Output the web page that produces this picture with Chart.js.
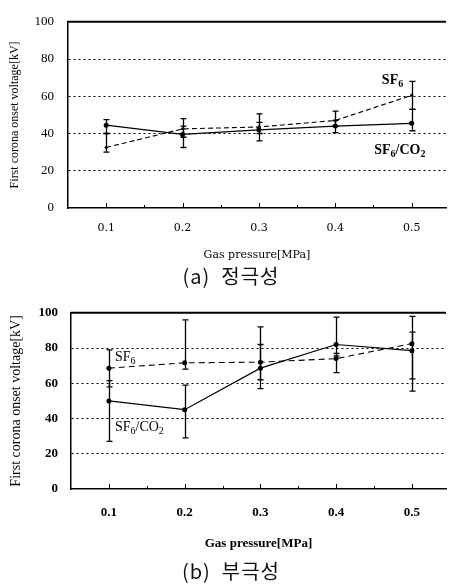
<!DOCTYPE html>
<html>
<head>
<meta charset="utf-8">
<script src="https://cdn.jsdelivr.net/npm/chart.js@4.4.1/dist/chart.umd.min.js"></script>
<style>
body { margin:0; background:#fff; width:450px; height:587px; position:relative; overflow:hidden; }
.box { position:absolute; left:0; width:450px; }
#boxA { top:0; height:264px; }
#boxB { top:292px; height:260px; }
.cap { position:absolute; left:0; width:462px; text-align:center; font-family:"Noto Sans CJK KR"; font-size:20px; line-height:22px; letter-spacing:1px; color:#111; }
</style>
</head>
<body>
<div class="box" id="boxA"><canvas id="chartA"></canvas></div>
<div class="cap" style="top:265px">(a)&nbsp;&nbsp;정극성</div>
<div class="box" id="boxB"><canvas id="chartB"></canvas></div>
<div class="cap" style="top:560px">(b)&nbsp;&nbsp;부극성</div>
<script>
var pressure = [0.1, 0.2, 0.3, 0.4, 0.5];
var xTickMarks = [0.1, 0.15, 0.2, 0.25, 0.3, 0.35, 0.4, 0.45, 0.5];
var yTicks = [0, 20, 40, 60, 80, 100];

// (a) positive polarity
var posMix = [44.5, 39.5, 42, 44, 45.5];
var posMixLo = [40, 32.5, 36, 40.5, 41.5];
var posMixHi = [47.5, 44, 46, 47, 53];
var posSf6 = [32.5, 42.5, 43.5, 47, 60.5];
var posSf6Lo = [30, 38, 40, 44, 53];
var posSf6Hi = [40, 48, 50.5, 52, 68];

// (b) negative polarity
var negMix = [50, 45, 68.6, 82, 78.5];
var negMixLo = [27, 29, 57, 75.5, 55.5];
var negMixHi = [61.5, 59, 82, 97.5, 89];
var negSf6 = [68.6, 71.6, 72, 74, 82.5];
var negSf6Lo = [58, 68, 62, 66, 62.5];
var negSf6Hi = [79, 96, 92, 77, 98];

function pts(vals) {
  return pressure.map(function(p, i) { return {x: p, y: vals[i]}; });
}

// top frame line and the small inner ticks on the x axis
var framePlugin = {
  id: 'frame',
  afterDraw: function(chart) {
    var ctx = chart.ctx, a = chart.chartArea, x = chart.scales.x;
    ctx.save();
    ctx.strokeStyle = '#000';
    ctx.lineWidth = 2;
    ctx.beginPath();
    ctx.moveTo(a.left, a.top);
    ctx.lineTo(a.right, a.top);
    ctx.stroke();
    ctx.lineWidth = 1;
    xTickMarks.forEach(function(v) {
      var px = Math.round(x.getPixelForValue(v)) + 0.5;
      var len = pressure.indexOf(v) >= 0 ? 5 : 3;
      ctx.beginPath();
      ctx.moveTo(px, a.bottom);
      ctx.lineTo(px, a.bottom - len);
      ctx.stroke();
    });
    ctx.restore();
  }
};

var errorPlugin = {
  id: 'errbars',
  beforeDatasetsDraw: function(chart) {
    var ctx = chart.ctx, x = chart.scales.x, y = chart.scales.y;
    ctx.save();
    ctx.strokeStyle = '#000';
    ctx.lineWidth = 1.3;
    chart.data.datasets.forEach(function(ds) {
      pressure.forEach(function(p, j) {
        var px = Math.round(x.getPixelForValue(p)) + 0.5;
        var lo = y.getPixelForValue(ds.errLo[j]);
        var hi = y.getPixelForValue(ds.errHi[j]);
        ctx.beginPath();
        ctx.moveTo(px, lo); ctx.lineTo(px, hi);
        ctx.moveTo(px - 3, hi); ctx.lineTo(px + 3, hi);
        ctx.moveTo(px - 3, lo); ctx.lineTo(px + 3, lo);
        ctx.stroke();
      });
    });
    ctx.restore();
  }
};

// series names with subscripts
var notePlugin = {
  id: 'notes',
  afterDraw: function(chart, args, opts) {
    var ctx = chart.ctx, x = chart.scales.x, y = chart.scales.y;
    ctx.save();
    ctx.fillStyle = '#000';
    ctx.textBaseline = 'alphabetic';
    ctx.textAlign = 'left';
    (opts.items || []).forEach(function(it) {
      var cx = x.getPixelForValue(it.x), cy = y.getPixelForValue(it.y);
      it.parts.forEach(function(part) {
        ctx.font = part[1] ? opts.subFont : opts.font;
        ctx.fillText(part[0], cx, cy + (part[1] ? 3 : 0));
        cx += ctx.measureText(part[0]).width;
      });
    });
    ctx.restore();
  }
};

function makeChart(id, s) {
  return new Chart(document.getElementById(id), {
    type: 'line',
    data: {
      datasets: [{
        label: 'SF6/CO2',
        data: pts(s.mix),
        errLo: s.mixLo,
        errHi: s.mixHi,
        borderColor: '#000',
        borderWidth: 1.2,
        pointRadius: 2.5,
        pointBackgroundColor: '#000',
        pointBorderWidth: 0,
        tension: 0
      }, {
        label: 'SF6',
        data: pts(s.sf6),
        errLo: s.sf6Lo,
        errHi: s.sf6Hi,
        borderColor: '#000',
        borderWidth: 1.1,
        borderDash: s.dash,
        pointRadius: s.sf6Radius,
        pointBackgroundColor: '#000',
        pointBorderWidth: 0,
        tension: 0
      }]
    },
    options: {
      responsive: true,
      maintainAspectRatio: false,
      animation: false,
      layout: { padding: { top: s.padTop, left: 0, right: 0, bottom: 0 } },
      plugins: {
        legend: { display: false },
        tooltip: { enabled: false },
        notes: { items: s.notes, font: s.noteFont, subFont: s.noteSubFont }
      },
      scales: {
        x: {
          type: 'linear',
          min: 0.05,
          max: 0.545,
          afterFit: function(sc) { sc.height = s.xHeight; },
          afterBuildTicks: function(sc) { sc.ticks = pressure.map(function(v) { return {value: v}; }); },
          grid: { display: false, drawTicks: false },
          border: { display: true, color: '#000', width: 1.5 },
          ticks: { color: '#000', padding: s.xPad, font: s.xTickFont, maxRotation: 0,
                   callback: function(v) { return v.toFixed(1); } },
          title: { display: true, text: 'Gas pressure[MPa]', color: '#000', font: s.xTitleFont,
                   padding: { top: 0, bottom: s.xTitlePad } }
        },
        y: {
          min: 0,
          max: 100,
          afterFit: function(sc) { sc.width = s.yWidth; },
          afterBuildTicks: function(sc) { sc.ticks = yTicks.map(function(v) { return {value: v}; }); },
          grid: {
            drawTicks: false,
            lineWidth: 1,
            color: function(c) { return (c.tick && c.tick.value > 0 && c.tick.value < 100) ? '#000' : 'rgba(0,0,0,0)'; }
          },
          border: { display: true, color: '#000', width: 1.5, dash: [2, 3] },
          ticks: { color: '#000', padding: s.yPad, font: s.yTickFont },
          title: { display: true, text: 'First corona onset voltage[kV]', color: '#000', font: s.yTitleFont,
                   padding: { top: 8, bottom: 0 } }
        }
      }
    },
    plugins: [framePlugin, errorPlugin, notePlugin]
  });
}

makeChart('chartA', {
  mix: posMix, mixLo: posMixLo, mixHi: posMixHi,
  sf6: posSf6, sf6Lo: posSf6Lo, sf6Hi: posSf6Hi,
  dash: [5, 3], sf6Radius: 1.5,
  padTop: 8, xHeight: 56, yWidth: 68, xPad: 14, yPad: 14, xTitlePad: 2,
  xTickFont: { family: 'DejaVu Serif', size: 11 },
  xTitleFont: { family: 'DejaVu Serif', size: 11 },
  yTickFont: { family: 'Liberation Serif', size: 13 },
  yTitleFont: { family: 'Liberation Serif', size: 12 },
  noteFont: 'bold 14px "Liberation Serif"', noteSubFont: 'bold 10px "Liberation Serif"',
  notes: [
    { x: 0.461, y: 66.5, parts: [['SF', 0], ['6', 1]] },
    { x: 0.451, y: 29, parts: [['SF', 0], ['6', 1], ['/CO', 0], ['2', 1]] }
  ]
});

makeChart('chartB', {
  mix: negMix, mixLo: negMixLo, mixHi: negMixHi,
  sf6: negSf6, sf6Lo: negSf6Lo, sf6Hi: negSf6Hi,
  dash: [6, 4], sf6Radius: 2.5,
  padTop: 10, xHeight: 63, yWidth: 71, xPad: 16, yPad: 13, xTitlePad: 1,
  xTickFont: { family: 'Liberation Serif', size: 13, weight: 'bold' },
  xTitleFont: { family: 'Liberation Serif', size: 13, weight: 'bold' },
  yTickFont: { family: 'Liberation Serif', size: 13, weight: 'bold' },
  yTitleFont: { family: 'Liberation Serif', size: 14 },
  noteFont: '14px "Liberation Serif"', noteSubFont: '10px "Liberation Serif"',
  notes: [
    { x: 0.108, y: 72.7, parts: [['SF', 0], ['6', 1]] },
    { x: 0.108, y: 33, parts: [['SF', 0], ['6', 1], ['/CO', 0], ['2', 1]] }
  ]
});
</script>
</body>
</html>
